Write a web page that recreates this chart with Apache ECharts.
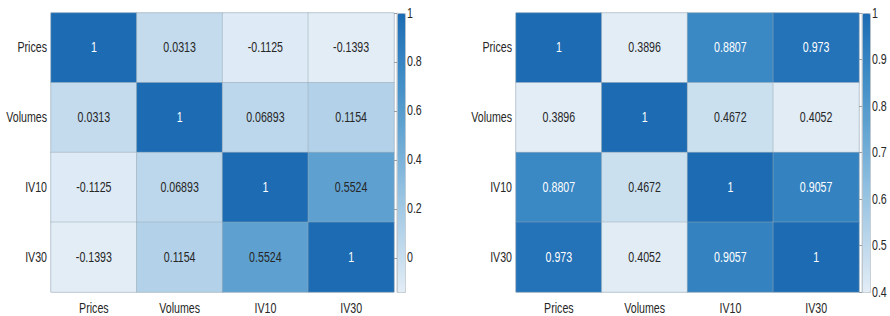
<!DOCTYPE html>
<html>
<head>
<meta charset="utf-8">
<script src="https://cdn.jsdelivr.net/npm/echarts@6/dist/echarts.min.js"></script>
<style>
html,body{margin:0;padding:0;background:#fff;overflow:hidden;}
#wrap{width:890px;height:316px;overflow:hidden;}
#chart{height:316px;transform-origin:0 0;}
</style>
</head>
<body>
<div id="wrap"><div id="chart"></div></div>
<script>
const categories = ['Prices', 'Volumes', 'IV10', 'IV30'];
const leftMatrix = [
  [1, 0.0313, -0.1125, -0.1393],
  [0.0313, 1, 0.06893, 0.1154],
  [-0.1125, 0.06893, 1, 0.5524],
  [-0.1393, 0.1154, 0.5524, 1]
];
const rightMatrix = [
  [1, 0.3896, 0.8807, 0.973],
  [0.3896, 1, 0.4672, 0.4052],
  [0.8807, 0.4672, 1, 0.9057],
  [0.973, 0.4052, 0.9057, 1]
];
const leftLimits = [-0.1393, 1];
const rightLimits = [0.4, 1];

// horizontal condensing of the whole drawing (text in the reference is narrow)
const SX = 0.76;
function X(px) { return px / SX; }

const chartEl = document.getElementById('chart');
chartEl.style.width = X(890) + 'px';
chartEl.style.transform = 'scaleX(' + SX + ')';

const FONT = "'Liberation Sans', Arial, sans-serif";
const TEXT = '#262626';
const RAMP = ['#e3edf6', '#b8d5ea', '#8bbcdf', '#5fa2d0', '#3a88c4', '#1d6cb3'];

function cells(matrix, limits) {
  const out = [];
  matrix.forEach(function (row, i) {
    row.forEach(function (v, j) {
      const frac = (v - limits[0]) / (limits[1] - limits[0]);
      out.push({ value: [j, i, v], label: { color: frac > 0.7 ? '#ffffff' : TEXT } });
    });
  });
  return out;
}

const grids = [
  { left: X(51), top: 13, width: X(343), height: 279, show: true, borderColor: '#c3cbd2', borderWidth: 1 },
  { left: X(516), top: 13, width: X(343), height: 279, show: true, borderColor: '#c3cbd2', borderWidth: 1 },
  { left: X(397), top: 13, width: X(8), height: 279 },
  { left: X(862), top: 13, width: X(8), height: 279 }
];

function catX(g) {
  return {
    type: 'category', gridIndex: g, data: categories,
    axisLine: { show: false }, axisTick: { show: false },
    axisLabel: { color: TEXT, fontFamily: FONT, fontSize: 14, margin: 9 }
  };
}
function catY(g) {
  return {
    type: 'category', gridIndex: g, data: categories, inverse: true,
    axisLine: { show: false }, axisTick: { show: false },
    axisLabel: { color: TEXT, fontFamily: FONT, fontSize: 14, margin: X(4) }
  };
}
function barY(g, limits, showMin) {
  return {
    type: 'value', gridIndex: g, position: 'right', min: limits[0], max: limits[1], splitNumber: 6,
    z: 10,
    axisLine: { show: true, lineStyle: { color: '#b5bec6' } },
    axisTick: { show: true, inside: true, length: X(3), lineStyle: { color: '#8a949c' } },
    axisLabel: { color: TEXT, fontFamily: FONT, fontSize: 14, margin: X(2), showMinLabel: showMin },
    splitLine: { show: false }
  };
}

function heat(g, matrix, limits) {
  return {
    type: 'heatmap', xAxisIndex: g, yAxisIndex: g,
    data: cells(matrix, limits),
    label: {
      show: true, fontFamily: FONT, fontSize: 14,
      formatter: function (p) { return String(p.value[2]); }
    },
    itemStyle: { borderColor: 'rgba(150,165,180,0.55)', borderWidth: 1 },
    emphasis: { disabled: true }
  };
}

const option = {
  animation: false,
  backgroundColor: '#ffffff',
  grid: grids,
  xAxis: [catX(0), catX(1), { type: 'value', gridIndex: 2, show: false }, { type: 'value', gridIndex: 3, show: false }],
  yAxis: [catY(0), catY(1), barY(2, leftLimits, false), barY(3, rightLimits, true)],
  visualMap: [
    { type: 'continuous', seriesIndex: 0, min: leftLimits[0], max: leftLimits[1], calculable: false,
      left: X(397), top: 13, itemWidth: X(8), itemHeight: 279, padding: 0, text: null,
      borderColor: '#b5bec6', borderWidth: 1, inRange: { color: RAMP } },
    { type: 'continuous', seriesIndex: 1, min: rightLimits[0], max: rightLimits[1], calculable: false,
      left: X(862), top: 13, itemWidth: X(8), itemHeight: 279, padding: 0, text: null,
      borderColor: '#b5bec6', borderWidth: 1, inRange: { color: RAMP } }
  ],
  series: [heat(0, leftMatrix, leftLimits), heat(1, rightMatrix, rightLimits)]
};

echarts.init(chartEl, null, { renderer: 'svg' }).setOption(option);
</script>
</body>
</html>
